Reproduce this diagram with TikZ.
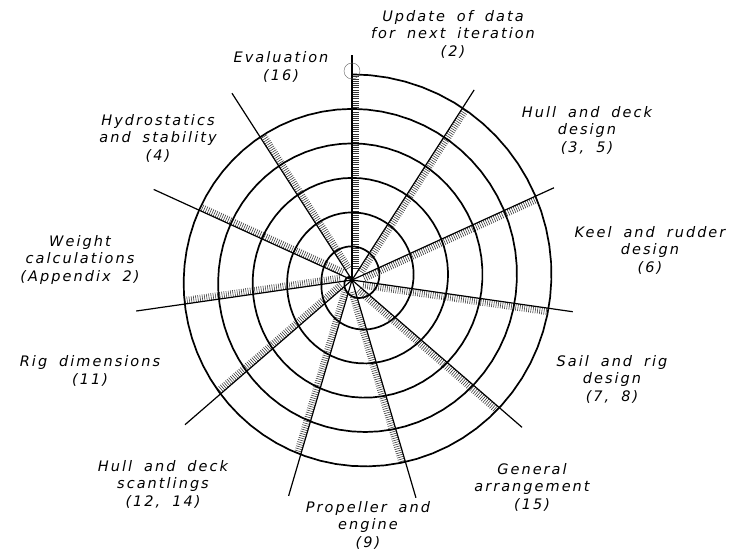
\documentclass[tikz,border=0pt]{standalone}
\usepackage{fontspec}
\newfontfamily\cadfont{DejaVu Sans}[LetterSpace=14,WordSpace=1.8]
\begin{document}
\begin{tikzpicture}[x=1pt,y=1pt,
  declare function={
    rb(\t)=208-0.0958333*\t;
    sr(\t)=rb(\t)-14*((1+cos(-100-\t))/2)^2*min(1,rb(\t)/45);
  },
  spiral/.style={line width=1.7pt,line join=round},
  spoke/.style={line width=1.2pt},
  hatch/.style={line width=0.55pt,black!80},
  lab/.style={align=center,font=\cadfont\itshape\fontsize{14.5}{17.5}\selectfont,inner sep=0pt}]
\useasboundingbox (0,0) rectangle (736,552);
\fill[white] (0,0) rectangle (736,552);
\coordinate (hub) at (352,272);
% hatching and spokes
\foreach \k/\L in {0/225,1/226,2/222,3/223,4/225,5/227,6/225,7/221,8/218,9/218,10/222}{
  \pgfmathsetmacro\a{90-\k*360/11}
  \pgfmathsetmacro\ro{sr(\k*360/11)}
  \foreach \r in {12,14.2,...,\ro}{
    \draw[hatch] (hub) ++(\a:\r) -- ++(\a-90:7);
  }
  \draw[spoke] (hub) -- ++(\a:\L);
}
% spiral
\draw[spiral] plot[domain=0:2160,samples=433,variable=\t]
  ({352+sr(\t)*cos(90-\t)},{272+sr(\t)*sin(90-\t)});
\node[circle,draw=black!60,line width=0.4pt,minimum size=16pt,inner sep=0pt] (start) at (352,481) {};
% labels
\node[lab] (upd) at (453,518) {Update of data\\for next iteration\\(2)};
\node[lab] (eval) at (281,485) {Evaluation\\(16)};
\node[lab] (hdd) at (587,422) {Hull and deck\\design\\(3, 5)};
\node[lab] (keel) at (650,302) {Keel and rudder\\design\\(6)};
\node[lab] (sail) at (612,173) {Sail and rig\\design\\(7, 8)};
\node[lab] (ga) at (532,65) {General\\arrangement\\(15)};
\node[lab] (prop) at (368,27) {Propeller and\\engine\\(9)};
\node[lab] (scant) at (163,68) {Hull and deck\\scantlings\\(12, 14)};
\node[lab] (rig) at (90,181) {Rig dimensions\\(11)};
\node[lab] (wt) at (80,292) {Weight\\calculations\\(Appendix 2)};
\node[lab] (hyd) at (158,414) {Hydrostatics\\and stability\\(4)};
\end{tikzpicture}
\end{document}
